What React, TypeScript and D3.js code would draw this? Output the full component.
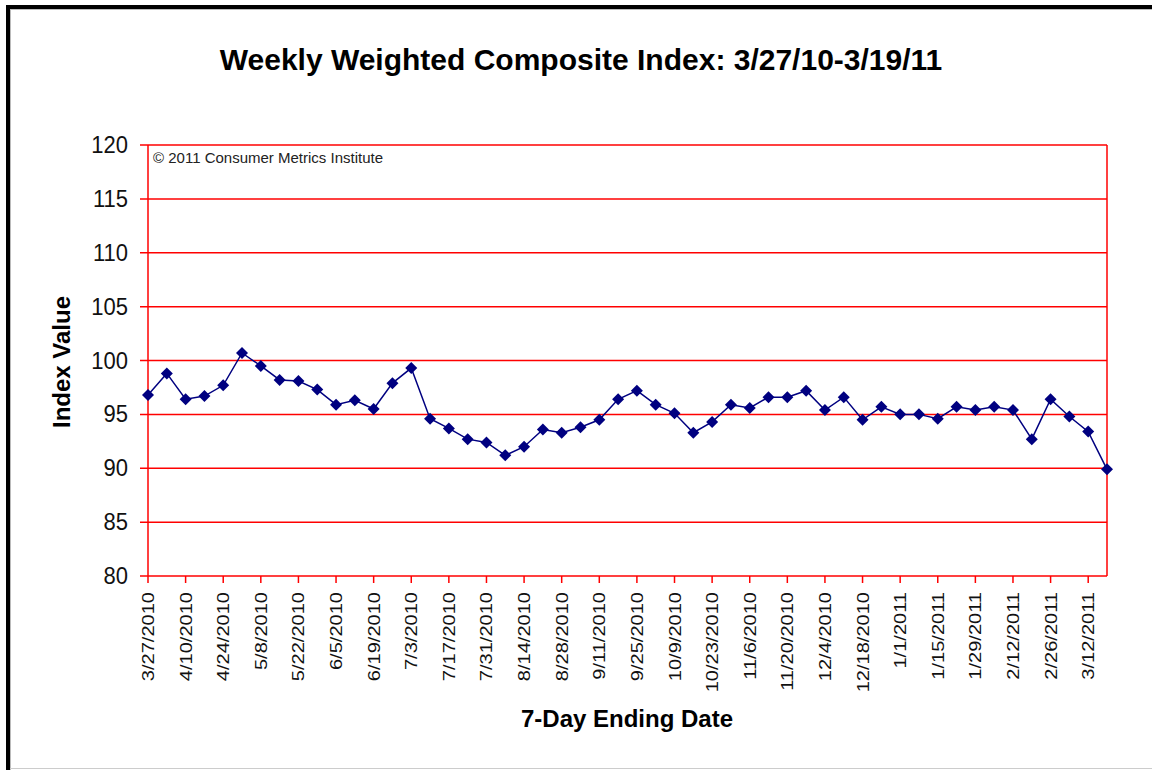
import React, { useRef, useEffect } from "react";
import * as d3 from "d3";

// week ending dates (category axis)
const weekEnding = [
  "3/27/2010", "4/3/2010", "4/10/2010", "4/17/2010", "4/24/2010", "5/1/2010", "5/8/2010",
  "5/15/2010", "5/22/2010", "5/29/2010", "6/5/2010", "6/12/2010", "6/19/2010", "6/26/2010",
  "7/3/2010", "7/10/2010", "7/17/2010", "7/24/2010", "7/31/2010", "8/7/2010", "8/14/2010",
  "8/21/2010", "8/28/2010", "9/4/2010", "9/11/2010", "9/18/2010", "9/25/2010", "10/2/2010",
  "10/9/2010", "10/16/2010", "10/23/2010", "10/30/2010", "11/6/2010", "11/13/2010", "11/20/2010",
  "11/27/2010", "12/4/2010", "12/11/2010", "12/18/2010", "12/25/2010", "1/1/2011", "1/8/2011",
  "1/15/2011", "1/22/2011", "1/29/2011", "2/5/2011", "2/12/2011", "2/19/2011", "2/26/2011",
  "3/5/2011", "3/12/2011", "3/19/2011",
];

const indexValue = [
  96.8, 98.8, 96.4, 96.7, 97.7, 100.7, 99.5, 98.2, 98.1, 97.3,
  95.9, 96.3, 95.5, 97.9, 99.3, 94.6, 93.7, 92.7, 92.4, 91.2,
  92.0, 93.6, 93.3, 93.8, 94.5, 96.4, 97.2, 95.9, 95.1, 93.3,
  94.3, 95.9, 95.6, 96.6, 96.6, 97.2, 95.4, 96.6, 94.5, 95.7,
  95.0, 95.0, 94.6, 95.7, 95.4, 95.7, 95.4, 92.7, 96.4, 94.8,
  93.4, 89.9,
];

// every second week gets a label
const tickLabels = weekEnding.filter((d, i) => i % 2 === 0);
const yTicks = [80, 85, 90, 95, 100, 105, 110, 115, 120];

const W = 1152;
const H = 770;
const FONT = "'Liberation Sans', Arial, sans-serif";

const App = () => {
  const ref = useRef<SVGSVGElement>(null);

  useEffect(() => {
    const svg = d3.select(ref.current);
    svg.selectAll("*").remove();

    const left = 148, right = 1107, top = 145, bottom = 576;

    const x = d3.scalePoint<string>().domain(weekEnding).range([left, right]);
    const y = d3.scaleLinear().domain([80, 120]).range([bottom, top]);

    // frame
    svg.append("rect").attr("width", W).attr("height", H).attr("fill", "#fff");
    svg.append("line").attr("x1", 6).attr("x2", W).attr("y1", 7).attr("y2", 7)
      .attr("stroke", "#000").attr("stroke-width", 4);
    svg.append("line").attr("x1", 8).attr("x2", 8).attr("y1", 5).attr("y2", H)
      .attr("stroke", "#000").attr("stroke-width", 4);
    svg.append("line").attr("x1", 10).attr("x2", W).attr("y1", 9.5).attr("y2", 9.5)
      .attr("stroke", "#bbb").attr("stroke-width", 1);
    svg.append("line").attr("x1", 10.5).attr("x2", 10.5).attr("y1", 9).attr("y2", H)
      .attr("stroke", "#bbb").attr("stroke-width", 1);
    svg.append("line").attr("x1", 10).attr("x2", W).attr("y1", 768.5).attr("y2", 768.5)
      .attr("stroke", "#ccc").attr("stroke-width", 1);

    // title
    svg.append("text")
      .attr("x", 581).attr("y", 70)
      .attr("text-anchor", "middle")
      .style("font-family", FONT).style("font-size", "30px").style("font-weight", "bold")
      .text("Weekly Weighted Composite Index: 3/27/10-3/19/11");

    // gridlines + y ticks
    const red = "#ff0000";
    svg.append("g").selectAll("line")
      .data(yTicks)
      .join("line")
      .attr("x1", left - 8).attr("x2", right)
      .attr("y1", d => y(d)).attr("y2", d => y(d))
      .attr("stroke", red).attr("stroke-width", 1.5);

    svg.append("g").selectAll("text")
      .data(yTicks)
      .join("text")
      .attr("transform", d => `translate(${left - 20},${y(d) + 8}) scale(1,1.12)`)
      .attr("text-anchor", "end")
      .style("font-family", FONT).style("font-size", "22px").attr("fill", "#111")
      .text(d => d);

    // plot border
    svg.append("line").attr("x1", left).attr("x2", left).attr("y1", top).attr("y2", bottom)
      .attr("stroke", red).attr("stroke-width", 1.5);
    svg.append("line").attr("x1", right).attr("x2", right).attr("y1", top).attr("y2", bottom)
      .attr("stroke", red).attr("stroke-width", 1.5);

    // x ticks + labels
    svg.append("g").selectAll("line")
      .data(tickLabels)
      .join("line")
      .attr("x1", d => x(d)!).attr("x2", d => x(d)!)
      .attr("y1", bottom).attr("y2", bottom + 7)
      .attr("stroke", red).attr("stroke-width", 1.5);

    svg.append("g").selectAll("text")
      .data(tickLabels)
      .join("text")
      .attr("transform", d => `translate(${x(d)! + 6},${bottom + 16}) scale(1,1.18) rotate(-90)`)
      .attr("text-anchor", "end")
      .style("font-family", FONT).style("font-size", "17px").attr("fill", "#111")
      .text(d => d);

    // copyright
    svg.append("text")
      .attr("x", 153).attr("y", 163)
      .style("font-family", FONT).style("font-size", "15px").attr("fill", "#222")
      .text("\u00A9 2011 Consumer Metrics Institute");

    // axis titles
    svg.append("text")
      .attr("x", 627).attr("y", 727)
      .attr("text-anchor", "middle")
      .style("font-family", FONT).style("font-size", "24px").style("font-weight", "bold")
      .text("7-Day Ending Date");

    svg.append("text")
      .attr("transform", `translate(70,362) rotate(-90)`)
      .attr("text-anchor", "middle")
      .style("font-family", FONT).style("font-size", "24px").style("font-weight", "bold")
      .text("Index Value");

    // series
    const series = weekEnding.map((d, i) => ({ week: d, value: indexValue[i] }));

    svg.append("path")
      .datum(series)
      .attr("fill", "none")
      .attr("stroke", "#000080")
      .attr("stroke-width", 1.5)
      .attr("d", d3.line<{ week: string; value: number }>()
        .x(d => x(d.week)!)
        .y(d => y(d.value)));

    const diamond = d3.symbol().type(d3.symbolSquare).size(72);
    svg.append("g").selectAll("path")
      .data(series)
      .join("path")
      .attr("transform", d => `translate(${x(d.week)},${y(d.value)}) rotate(45)`)
      .attr("d", diamond()!)
      .attr("fill", "#000080");
  }, []);

  return (
    <svg
      ref={ref}
      width={W}
      height={H}
      style={{ position: "absolute", left: 0, top: 0, background: "#fff" }}
    />
  );
};

export default App;
